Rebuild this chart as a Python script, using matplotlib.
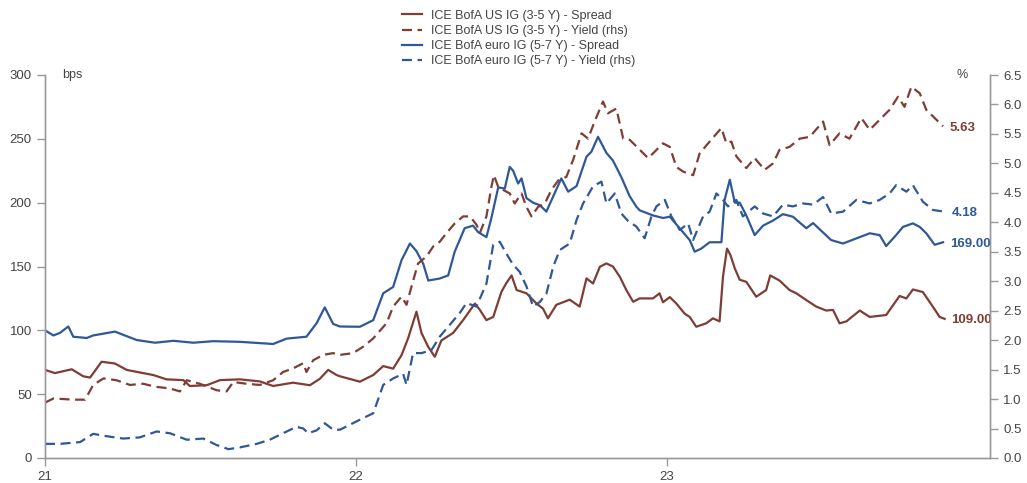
import matplotlib.pyplot as plt
import numpy as np

plt.rcParams['font.family'] = ['Liberation Sans', 'DejaVu Sans']

BROWN = '#7f3d35'
BLUE = '#2f5898'
GREY = '#999999'
TEXT = '#444444'

us_spread_t = [0.000, 0.032, 0.086, 0.123, 0.145, 0.182, 0.225, 0.263, 0.305, 0.348,
               0.391, 0.445, 0.466, 0.520, 0.563, 0.627, 0.691, 0.734, 0.798, 0.852,
               0.884, 0.911, 0.938, 0.949, 1.013, 1.056, 1.088, 1.120, 1.147, 1.168,
               1.195, 1.211, 1.233, 1.254, 1.275, 1.313, 1.345, 1.383, 1.399, 1.420,
               1.442, 1.468, 1.484, 1.501, 1.517, 1.549, 1.581, 1.602, 1.618, 1.645,
               1.688, 1.720, 1.742, 1.763, 1.785, 1.806, 1.827, 1.849, 1.870, 1.892,
               1.913, 1.956, 1.977, 1.988, 2.010, 2.031, 2.058, 2.074, 2.095, 2.127,
               2.149, 2.170, 2.181, 2.194, 2.205, 2.219, 2.235, 2.256, 2.288, 2.320,
               2.333, 2.363, 2.395, 2.417, 2.449, 2.481, 2.513, 2.535, 2.556, 2.578,
               2.621, 2.653, 2.706, 2.749, 2.771, 2.792, 2.824, 2.856, 2.878, 2.894]
us_spread = [69, 66.5, 69.5, 64, 63, 75.4, 74, 69, 67, 65,
             61.6, 61, 56.4, 57, 61, 61.6, 60, 56.4, 59, 57,
             62, 69, 65, 64, 59.8, 65, 72, 70, 80.6, 93.7,
             114.6, 98, 87, 79.3, 92, 98, 108, 121, 116, 108,
             110.5, 130, 137, 143, 131.6, 129, 121, 117, 109.4, 120,
             124, 118.6, 140.7, 136.7, 149.8, 152.4, 150, 142, 131.6, 122.4,
             125, 125, 129, 122, 126, 121, 113, 110.5, 102.8, 105.5,
             109.4, 107, 142, 164, 159, 148.5, 139.6, 138, 126.3, 131.6,
             143, 139, 131.6, 129, 123.7, 118.6, 115.5, 116, 105.5, 107,
             115.5, 110.5, 112, 126.9, 125, 132, 130, 118.6, 110.5, 109]

us_yield_t = [0.000, 0.027, 0.091, 0.129, 0.155, 0.188, 0.230, 0.273, 0.316, 0.354,
              0.402, 0.434, 0.456, 0.498, 0.552, 0.584, 0.606, 0.648, 0.691, 0.734,
              0.766, 0.798, 0.831, 0.841, 0.863, 0.895, 0.927, 0.949, 0.991, 1.024,
              1.056, 1.099, 1.120, 1.147, 1.163, 1.179, 1.200, 1.227, 1.249, 1.270,
              1.292, 1.318, 1.345, 1.367, 1.388, 1.399, 1.420, 1.436, 1.444, 1.458,
              1.474, 1.495, 1.511, 1.533, 1.549, 1.565, 1.586, 1.608, 1.629, 1.651,
              1.677, 1.699, 1.726, 1.747, 1.768, 1.795, 1.811, 1.838, 1.860, 1.881,
              1.908, 1.940, 1.956, 1.988, 2.010, 2.031, 2.053, 2.085, 2.106, 2.138,
              2.176, 2.192, 2.208, 2.224, 2.256, 2.283, 2.315, 2.342, 2.363, 2.395,
              2.428, 2.460, 2.503, 2.524, 2.556, 2.588, 2.626, 2.653, 2.685, 2.717,
              2.744, 2.765, 2.787, 2.814, 2.835, 2.862, 2.889]
us_yield = [0.94, 1.01, 0.99, 0.99, 1.24, 1.35, 1.32, 1.24, 1.26, 1.21,
            1.18, 1.13, 1.32, 1.26, 1.15, 1.13, 1.29, 1.26, 1.24, 1.32,
            1.46, 1.52, 1.61, 1.46, 1.66, 1.75, 1.78, 1.75, 1.78, 1.89,
            2.03, 2.29, 2.57, 2.74, 2.60, 2.91, 3.30, 3.42, 3.59, 3.67,
            3.82, 3.98, 4.10, 4.10, 3.96, 3.82, 4.10, 4.60, 4.80, 4.60,
            4.55, 4.49, 4.32, 4.49, 4.26, 4.10, 4.26, 4.32, 4.55, 4.71,
            4.77, 5.06, 5.51, 5.42, 5.71, 6.05, 5.85, 5.93, 5.42, 5.40,
            5.26, 5.09, 5.17, 5.34, 5.28, 4.94, 4.86, 4.80, 5.17, 5.37,
            5.60, 5.34, 5.37, 5.12, 4.92, 5.09, 4.89, 5.00, 5.23, 5.28,
            5.42, 5.45, 5.71, 5.31, 5.51, 5.42, 5.77, 5.57, 5.74, 5.91,
            6.13, 5.96, 6.30, 6.19, 5.91, 5.77, 5.63]

eu_spread_t = [0.000, 0.027, 0.048, 0.075, 0.091, 0.134, 0.155, 0.225, 0.295, 0.354,
               0.413, 0.477, 0.541, 0.627, 0.734, 0.777, 0.841, 0.874, 0.900, 0.927,
               0.949, 1.013, 1.056, 1.088, 1.120, 1.147, 1.174, 1.195, 1.217, 1.233,
               1.270, 1.297, 1.318, 1.350, 1.377, 1.393, 1.420, 1.436, 1.458, 1.479,
               1.495, 1.506, 1.522, 1.533, 1.549, 1.570, 1.592, 1.613, 1.635, 1.661,
               1.683, 1.710, 1.742, 1.758, 1.779, 1.806, 1.827, 1.854, 1.881, 1.902,
               1.913, 1.956, 1.988, 2.010, 2.031, 2.074, 2.090, 2.111, 2.138, 2.176,
               2.186, 2.203, 2.219, 2.235, 2.256, 2.283, 2.310, 2.342, 2.374, 2.406,
               2.449, 2.471, 2.497, 2.529, 2.567, 2.610, 2.653, 2.685, 2.706, 2.738,
               2.760, 2.792, 2.814, 2.835, 2.862, 2.889]
eu_spread = [100, 96, 98, 103, 95, 94, 96, 99, 92.4, 90.3,
             91.8, 90.3, 91.5, 91, 89.3, 93.5, 95, 105.7, 118, 105,
             103, 102.8, 108, 129, 134, 155, 168, 162, 152, 139,
             140.6, 143, 161.6, 180, 182, 177, 173, 188, 212, 211,
             228, 225, 215, 219, 203.5, 200, 198, 193, 205, 219,
             208.6, 213, 236, 240, 251.6, 239, 233, 220, 205, 197,
             194, 190, 188, 189, 183, 170.7, 161.6, 164, 169, 169,
             202, 218, 200, 200, 190, 174.6, 182, 186, 191, 189,
             180, 184, 178, 170.7, 168, 172, 176, 174.6, 166, 174.6,
             181, 183.8, 181, 176, 167, 169]

eu_yield_t = [0.000, 0.048, 0.113, 0.155, 0.198, 0.252, 0.305, 0.359, 0.402, 0.456,
              0.509, 0.552, 0.590, 0.627, 0.681, 0.723, 0.766, 0.809, 0.831, 0.847,
              0.874, 0.900, 0.927, 0.949, 1.013, 1.056, 1.088, 1.120, 1.152, 1.163,
              1.184, 1.211, 1.243, 1.270, 1.302, 1.334, 1.356, 1.388, 1.420, 1.442,
              1.463, 1.484, 1.506, 1.527, 1.549, 1.570, 1.592, 1.613, 1.635, 1.656,
              1.688, 1.710, 1.731, 1.763, 1.790, 1.806, 1.833, 1.854, 1.876, 1.902,
              1.929, 1.951, 1.967, 1.994, 2.015, 2.042, 2.069, 2.085, 2.117, 2.138,
              2.160, 2.181, 2.197, 2.224, 2.245, 2.283, 2.310, 2.342, 2.374, 2.406,
              2.438, 2.471, 2.503, 2.529, 2.567, 2.610, 2.653, 2.685, 2.717, 2.738,
              2.771, 2.792, 2.824, 2.856, 2.894]
eu_yield = [0.24, 0.24, 0.27, 0.41, 0.37, 0.33, 0.35, 0.45, 0.42, 0.31,
            0.33, 0.22, 0.15, 0.18, 0.24, 0.31, 0.42, 0.53, 0.50, 0.42,
            0.47, 0.59, 0.48, 0.48, 0.65, 0.76, 1.24, 1.35, 1.43, 1.24,
            1.78, 1.78, 1.83, 2.06, 2.26, 2.46, 2.63, 2.57, 2.96, 3.62,
            3.67, 3.47, 3.28, 3.16, 2.91, 2.57, 2.65, 2.79, 3.25, 3.53,
            3.64, 4.04, 4.32, 4.61, 4.69, 4.32, 4.49, 4.15, 4.02, 3.93,
            3.73, 4.10, 4.27, 4.38, 4.10, 3.87, 3.98, 3.70, 4.10, 4.18,
            4.49, 4.38, 4.27, 4.38, 4.10, 4.27, 4.15, 4.10, 4.30, 4.27,
            4.32, 4.30, 4.43, 4.15, 4.18, 4.38, 4.32, 4.38, 4.49, 4.63,
            4.52, 4.63, 4.35, 4.21, 4.18]

labels = ['ICE BofA US IG (3-5 Y) - Spread',
          'ICE BofA US IG (3-5 Y) - Yield (rhs)',
          'ICE BofA euro IG (5-7 Y) - Spread',
          'ICE BofA euro IG (5-7 Y) - Yield (rhs)']

START = 2021
fig = plt.figure(figsize=(10.27, 4.83), dpi=100)
ax = fig.add_axes([45 / 1027, 25 / 483, 945 / 1027, 383 / 483])
ax2 = ax.twinx()

dash = (0, (4.5, 2.5))
l1, = ax.plot(START + np.array(us_spread_t), us_spread, color=BROWN, lw=1.6)
l3, = ax.plot(START + np.array(eu_spread_t), eu_spread, color=BLUE, lw=1.6)
l2, = ax2.plot(START + np.array(us_yield_t), us_yield, color=BROWN, lw=1.6, ls=dash)
l4, = ax2.plot(START + np.array(eu_yield_t), eu_yield, color=BLUE, lw=1.6, ls=dash)

ax.set_xlim(START, START + 3.04)
ax.set_ylim(0, 300)
ax2.set_ylim(0, 6.5)
ax.set_xticks([2021, 2022, 2023])
ax.set_xticklabels(['21', '22', '23'])
ax.set_yticks(np.arange(0, 301, 50))
ax2.set_yticks(np.arange(0, 6.51, 0.5))
ax2.set_yticklabels([f'{v:.1f}' for v in np.arange(0, 6.51, 0.5)])

for a in (ax, ax2):
    a.spines['top'].set_visible(False)
    for side in ('left', 'right', 'bottom'):
        a.spines[side].set_color(GREY)
        a.spines[side].set_linewidth(1.0)
    a.tick_params(colors=GREY, labelcolor=TEXT, labelsize=9.5, length=6, width=1)
ax.tick_params(axis='x', pad=3)

ax.text(0.018, 1.0, 'bps', transform=ax.transAxes, fontsize=9, color=TEXT, va='center')
ax.text(0.965, 1.0, '%', transform=ax.transAxes, fontsize=9, color=TEXT, va='center')

# end-of-series value tags
for a, t, v, c in [(ax2, us_yield_t, us_yield, BROWN),
                   (ax2, eu_yield_t, eu_yield, BLUE),
                   (ax, eu_spread_t, eu_spread, BLUE),
                   (ax, us_spread_t, us_spread, BROWN)]:
    a.annotate(f'{v[-1]:.2f}', (START + t[-1], v[-1]), xytext=(5, -1),
               textcoords='offset points', color=c, fontsize=9.5,
               fontweight='bold', va='center', ha='left')

fig.legend([l1, l2, l3, l4], labels, loc='upper center', bbox_to_anchor=(0.505, 1.003),
           frameon=False, fontsize=9, handlelength=1.6, labelspacing=0.25,
           handletextpad=0.7, labelcolor=TEXT)

plt.savefig('out.png')
